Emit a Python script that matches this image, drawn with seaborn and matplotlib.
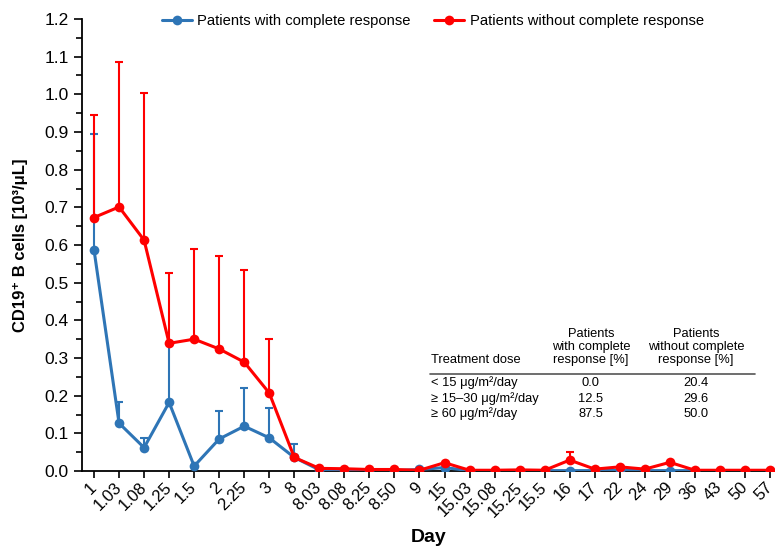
import numpy as np
import pandas as pd
import matplotlib
matplotlib.use("Agg")
import matplotlib.pyplot as plt
import seaborn as sns
from matplotlib.ticker import MultipleLocator

days = ["1", "1.03", "1.08", "1.25", "1.5", "2", "2.25", "3", "8", "8.03", "8.08",
        "8.25", "8.50", "9", "15", "15.03", "15.08", "15.25", "15.5", "16", "17",
        "22", "24", "29", "36", "43", "50", "57"]

cr_mean = [0.587, 0.127, 0.062, 0.182, 0.013, 0.085, 0.119, 0.088, 0.036, 0.003, 0.002,
           0.001, 0.001, 0.004, 0.009, 0.001, 0.001, 0.001, 0.001, 0.001, 0.001,
           0.002, 0.001, 0.001, 0.001, 0.001, 0.001, 0.001]
cr_upper = [0.896, 0.182, 0.088, 0.340, None, 0.160, 0.221, 0.166, 0.073, None, None,
            None, None, None, None, None, None, None, None, None, None,
            None, None, None, None, None, None, None]

ncr_mean = [0.673, 0.701, 0.613, 0.339, 0.350, 0.324, 0.289, 0.207, 0.036, 0.007, 0.006,
            0.004, 0.004, 0.002, 0.022, 0.002, 0.002, 0.003, 0.002, 0.029, 0.005,
            0.011, 0.005, 0.023, 0.002, 0.002, 0.002, 0.002]
ncr_upper = [0.945, 1.085, 1.003, 0.525, 0.589, 0.571, 0.534, 0.350, None, None, None,
             None, None, None, None, None, None, None, None, 0.050, None,
             None, None, None, None, None, None, None]

series_names = ["Patients with complete response", "Patients without complete response"]
colors = ["#2E75B6", "#FF0000"]

table_doses = ["< 15 \u03bcg/m\u00b2/day", "\u2265 15\u201330 \u03bcg/m\u00b2/day", "\u2265 60 \u03bcg/m\u00b2/day"]
table_cr = ["0.0", "12.5", "87.5"]
table_ncr = ["20.4", "29.6", "50.0"]

sns.set_style("ticks")
plt.rcParams["font.family"] = ["Liberation Sans", "DejaVu Sans"]
plt.rcParams["text.color"] = "black"
plt.rcParams["axes.labelcolor"] = "black"
plt.rcParams["xtick.color"] = "black"
plt.rcParams["ytick.color"] = "black"

W, H = 775, 548
fig = plt.figure(figsize=(W / 100, H / 100), dpi=100)
ax = fig.add_axes([82 / W, 77 / H, (W - 82) / W, (471 - 19) / H])

pos = np.arange(len(days))
df = pd.concat([
    pd.DataFrame({"pos": pos, "value": cr_mean, "group": series_names[0]}),
    pd.DataFrame({"pos": pos, "value": ncr_mean, "group": series_names[1]}),
])

# error bars (upper only)
for mean, upper, col, z in [(cr_mean, cr_upper, colors[0], 1), (ncr_mean, ncr_upper, colors[1], 2)]:
    idx = [i for i, u in enumerate(upper) if u is not None]
    m = np.array([mean[i] for i in idx])
    u = np.array([upper[i] for i in idx])
    ax.errorbar(pos[idx], m, yerr=[np.zeros_like(m), u - m], fmt="none",
                ecolor=col, elinewidth=1.5, capsize=3.2, capthick=1.5, zorder=z)

sns.lineplot(data=df, x="pos", y="value", hue="group", palette=colors,
             marker="o", markersize=7, markeredgewidth=0, linewidth=2.2,
             sort=False, ax=ax, zorder=3)

ax.set_xlim(-0.48, 27.2)
ax.set_ylim(0, 1.2)
ax.set_xticks(pos)
ax.set_xticklabels(days, rotation=45, ha="right", va="center", rotation_mode="anchor", fontsize=12)
ax.yaxis.set_major_locator(MultipleLocator(0.1))
ax.yaxis.set_minor_locator(MultipleLocator(0.05))
ax.yaxis.set_major_formatter(matplotlib.ticker.FormatStrFormatter("%.1f"))
ax.tick_params(axis="y", which="major", length=6, width=1.2, labelsize=12.5, colors="black")
ax.tick_params(axis="y", which="minor", length=4, width=1.2, colors="black")
ax.tick_params(axis="x", length=5, width=1.2, colors="black", pad=5)
for s in ["top", "right"]:
    ax.spines[s].set_visible(False)
for s in ["left", "bottom"]:
    ax.spines[s].set_linewidth(1.3)
    ax.spines[s].set_color("black")

ax.set_ylabel("CD19\u207a B cells [10\u00b3/\u03bcL]", fontsize=12, fontweight="bold", labelpad=12)
ax.set_xlabel("Day", fontsize=14, fontweight="bold", va="center")
ax.xaxis.set_label_coords(0.5, (471 - 537) / (471 - 19))

handles, labels = ax.get_legend_handles_labels()
ax.legend(handles, labels, loc="center", bbox_to_anchor=(433 / W, 1 - 21 / H),
          bbox_transform=fig.transFigure, ncol=2, frameon=False, fontsize=10.6,
          handlelength=2.0, handletextpad=0.4, columnspacing=1.6)

# inset table
def fx(px):
    return px / W

def fy(py):
    return 1 - py / H

tfs = 9.3
fig.text(fx(431), fy(360), "Treatment dose", fontsize=tfs, ha="left", va="center")
fig.text(fx(591), fy(347), "Patients\nwith complete\nresponse [%]", fontsize=tfs,
         ha="center", va="center", linespacing=1.1)
fig.text(fx(696), fy(347), "Patients\nwithout complete\nresponse [%]", fontsize=tfs,
         ha="center", va="center", linespacing=1.1)
fig.add_artist(plt.Line2D([fx(430), fx(755)], [fy(374), fy(374)], color="#555555", lw=1.2))
row_y = [383, 399, 414]
for ry, d, a, b in zip(row_y, table_doses, table_cr, table_ncr):
    fig.text(fx(431), fy(ry), d, fontsize=tfs, ha="left", va="center")
    fig.text(fx(591), fy(ry), a, fontsize=tfs, ha="center", va="center")
    fig.text(fx(696), fy(ry), b, fontsize=tfs, ha="center", va="center")

fig.savefig("out.png", dpi=100)
